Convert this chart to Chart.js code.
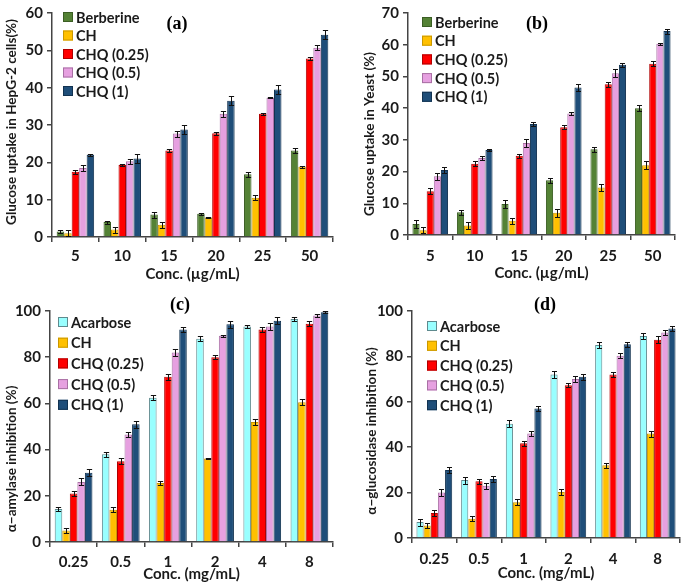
<!DOCTYPE html>
<html>
<head>
<meta charset="utf-8">
<script src="https://cdn.jsdelivr.net/npm/chart.js@4.4.0/dist/chart.umd.min.js"></script>
<style>
  body { margin: 0; background: #fff; }
  #wrap { position: relative; width: 685px; height: 587px; }
  canvas { position: absolute; }
</style>
</head>
<body>
<div id="wrap">
  <canvas id="chartA" width="345" height="290" style="left:0;top:0"></canvas>
  <canvas id="chartB" width="345" height="290" style="left:340px;top:0"></canvas>
  <canvas id="chartC" width="345" height="297" style="left:0;top:290px"></canvas>
  <canvas id="chartD" width="345" height="297" style="left:340px;top:290px"></canvas>
</div>
<script>
/*************************************************************
 *                      DATA
 *************************************************************/
const concUg = ["5", "10", "15", "20", "25", "50"];
const concMg = ["0.25", "0.5", "1", "2", "4", "8"];

// (a) glucose uptake in HepG-2 cells
const hepgBerberine = [1.5, 4.0, 6.0, 6.2, 16.8, 23.2];
const hepgCH        = [1.0, 2.0, 3.3, 5.2, 10.5, 18.8];
const hepgCHQ025    = [17.5, 19.3, 23.2, 27.8, 33.0, 47.8];
const hepgCHQ05     = [18.5, 20.3, 27.7, 33.0, 37.3, 50.7];
const hepgCHQ1      = [22.0, 21.0, 28.8, 36.5, 39.5, 54.2];
const hepgErr = [
  [0.5, 0.4, 0.8, 0.2, 0.6, 0.6],
  [0.8, 0.8, 0.8, 0.2, 0.7, 0.2],
  [0.5, 0.3, 0.4, 0.4, 0.3, 0.4],
  [0.7, 0.7, 0.8, 0.8, 0.2, 0.6],
  [0.2, 1.2, 1.2, 1.2, 1.2, 1.2],
];

// (b) glucose uptake in yeast
const yeastBerberine = [3.5, 7.2, 9.8, 17.3, 27.0, 40.0];
const yeastCH        = [1.5, 3.0, 4.5, 7.0, 15.0, 22.0];
const yeastCHQ025    = [13.8, 22.5, 25.0, 34.0, 47.5, 54.0];
const yeastCHQ05     = [18.5, 24.3, 29.0, 38.3, 51.0, 60.3];
const yeastCHQ1      = [20.5, 26.8, 35.0, 46.5, 53.7, 64.3];
const yeastErr = [
  [1.2, 0.8, 1.2, 0.8, 0.9, 0.9],
  [1.0, 1.0, 1.0, 1.2, 1.0, 1.2],
  [1.0, 0.8, 0.6, 0.6, 0.9, 0.8],
  [1.2, 0.6, 1.2, 0.6, 1.2, 0.3],
  [0.8, 0.4, 0.5, 1.0, 0.6, 0.8],
];

// (c) alpha-amylase inhibition
const amylAcarbose = [14.3, 38.0, 62.5, 88.0, 93.3, 96.5];
const amylCH       = [5.0, 14.0, 25.5, 36.2, 52.0, 60.5];
const amylCHQ025   = [21.0, 35.0, 71.5, 80.0, 92.0, 94.5];
const amylCHQ05    = [26.0, 46.5, 82.0, 89.3, 93.3, 98.0];
const amylCHQ1     = [30.0, 51.0, 92.0, 94.3, 95.8, 99.5];
const amylErr = [
  [1.0, 1.0, 1.2, 1.0, 0.8, 0.7],
  [1.0, 1.0, 0.8, 0.2, 1.2, 1.2],
  [1.0, 1.2, 1.2, 0.8, 1.2, 1.2],
  [1.5, 1.0, 1.5, 0.5, 1.5, 0.8],
  [1.5, 1.5, 1.0, 1.5, 1.5, 0.5],
];

// (d) alpha-glucosidase inhibition
const glucAcarbose = [7.0, 25.5, 50.3, 72.0, 85.0, 89.0];
const glucCH       = [5.5, 8.5, 15.8, 20.3, 32.0, 46.0];
const glucCHQ025   = [11.0, 25.0, 41.7, 67.3, 72.0, 87.3];
const glucCHQ05    = [20.0, 23.0, 46.0, 70.0, 80.3, 90.5];
const glucCHQ1     = [30.0, 26.0, 57.0, 71.0, 85.3, 92.3];
const glucErr = [
  [1.5, 1.5, 1.5, 1.5, 1.5, 1.2],
  [1.2, 1.2, 1.2, 1.2, 1.2, 1.3],
  [1.2, 1.2, 1.0, 1.0, 1.2, 1.5],
  [1.5, 1.2, 1.2, 1.2, 1.2, 1.2],
  [1.2, 1.2, 1.2, 1.2, 1.2, 1.2],
];

/*************************************************************
 *                      STYLE
 *************************************************************/
const seriesStyle = {
  "Berberine":  { fill: "#548235", edge: "#3b5e24" },
  "Acarbose":   { fill: "#99FFFF", edge: "#5f8a8e" },
  "CH":         { fill: "#FFC000", edge: "#c99700" },
  "CHQ (0.25)": { fill: "#FF0000", edge: "#b00000" },
  "CHQ (0.5)":  { fill: "#E6A0E0", edge: "#a870a4" },
  "CHQ (1)":    { fill: "#1F4E79", edge: "#123250" },
};
const TEXT = "#1a1a1a";
const FONT = "Lato";

/*************************************************************
 *                      PLUGIN: error bars, legend, labels
 *************************************************************/
const decorPlugin = {
  id: "decor",
  afterDatasetsDraw(chart, args, opts) {
    const ctx = chart.ctx;
    const yScale = chart.scales.y;
    ctx.save();
    ctx.strokeStyle = "#111";
    ctx.lineWidth = 1;
    chart.data.datasets.forEach((ds, i) => {
      const meta = chart.getDatasetMeta(i);
      meta.data.forEach((bar, j) => {
        const err = opts.errors[i][j];
        const v = ds.data[j];
        const yTop = Math.round(yScale.getPixelForValue(v + err)) + 0.5;
        const yBot = Math.round(yScale.getPixelForValue(v - err)) + 0.5;
        const x = Math.round(bar.x) + 0.5;
        const half = bar.width * 0.35;
        ctx.beginPath();
        ctx.moveTo(x, yTop); ctx.lineTo(x, yBot);
        ctx.moveTo(x - half, yTop); ctx.lineTo(x + half, yTop);
        ctx.moveTo(x - half, yBot); ctx.lineTo(x + half, yBot);
        ctx.stroke();
      });
    });
    ctx.restore();
  },
  afterDraw(chart, args, opts) {
    const ctx = chart.ctx;
    ctx.save();
    // panel label
    ctx.fillStyle = "#000";
    ctx.font = "bold 18px 'Liberation Serif'";
    ctx.textAlign = "center";
    ctx.textBaseline = "middle";
    ctx.fillText(opts.label, opts.labelX, opts.labelY);
    // legend
    ctx.font = "bold 14.5px " + FONT;
    ctx.textAlign = "left";
    chart.data.datasets.forEach((ds, i) => {
      const y = opts.legendY + i * opts.legendGap;
      ctx.fillStyle = ds.backgroundColor;
      ctx.fillRect(opts.legendX, y - 5, 10, 10);
      ctx.strokeStyle = ds.borderColor;
      ctx.lineWidth = 1;
      ctx.strokeRect(opts.legendX + 0.5, y - 4.5, 9, 9);
      ctx.fillStyle = TEXT;
      ctx.fillText(ds.label, opts.legendX + 13, y + 1);
    });
    // y axis title
    ctx.translate(opts.yTitleX, opts.yTitleY);
    ctx.rotate(-Math.PI / 2);
    ctx.textAlign = "center";
    ctx.font = "bold 13.5px " + FONT;
    ctx.fillStyle = TEXT;
    ctx.fillText(opts.yTitle, 0, 0);
    ctx.restore();
  },
};

/*************************************************************
 *                      PANEL SETTINGS
 *************************************************************/
const panels = [
  {
    el: "chartA", labels: concUg, yMax: 60, yStep: 10,
    names: ["Berberine", "CH", "CHQ (0.25)", "CHQ (0.5)", "CHQ (1)"],
    values: [hepgBerberine, hepgCH, hepgCHQ025, hepgCHQ05, hepgCHQ1], errors: hepgErr,
    xTitle: "Conc. (µg/mL)", yTitle: "Glucose uptake in HepG-2 cells(%)",
    area: { top: 10, right: 12, yWidth: 52, xHeight: 53 }, tickPad: 5, titlePad: 6.6,
    decor: { label: "(a)", labelX: 177, labelY: 24, legendX: 63, legendY: 17, legendGap: 18.5,
             yTitleX: 12, yTitleY: 122 },
  },
  {
    el: "chartB", labels: concUg, yMax: 70, yStep: 10,
    names: ["Berberine", "CH", "CHQ (0.25)", "CHQ (0.5)", "CHQ (1)"],
    values: [yeastBerberine, yeastCH, yeastCHQ025, yeastCHQ05, yeastCHQ1], errors: yeastErr,
    xTitle: "Conc. (µg/mL)", yTitle: "Glucose uptake in Yeast (%)",
    area: { top: 8, right: 10, yWidth: 68, xHeight: 55 }, tickPad: 7, titlePad: 7.6,
    decor: { label: "(b)", labelX: 197, labelY: 24, legendX: 82, legendY: 22, legendGap: 18.7,
             yTitleX: 30, yTitleY: 134 },
  },
  {
    el: "chartC", labels: concMg, yMax: 100, yStep: 20,
    names: ["Acarbose", "CH", "CHQ (0.25)", "CHQ (0.5)", "CHQ (1)"],
    values: [amylAcarbose, amylCH, amylCHQ025, amylCHQ05, amylCHQ1], errors: amylErr,
    xTitle: "Conc. (mg/mL)", yTitle: "α\u2212amylase inhibition (%)",
    area: { top: 21, right: 12, yWidth: 50, xHeight: 45 }, tickPad: 6, titlePad: 3.6,
    decor: { label: "(c)", labelX: 180, labelY: 15, legendX: 58, legendY: 32, legendGap: 20.7,
             yTitleX: 12, yTitleY: 169 },
  },
  {
    el: "chartD", labels: concMg, yMax: 100, yStep: 20,
    names: ["Acarbose", "CH", "CHQ (0.25)", "CHQ (0.5)", "CHQ (1)"],
    values: [glucAcarbose, glucCH, glucCHQ025, glucCHQ05, glucCHQ1], errors: glucErr,
    xTitle: "Conc. (mg/mL)", yTitle: "α\u2212glucosidase inhibition (%)",
    area: { top: 21, right: 5, yWidth: 72, xHeight: 49 }, tickPad: 7, titlePad: 4.6,
    decor: { label: "(d)", labelX: 205, labelY: 15, legendX: 87, legendY: 36, legendGap: 19.8,
             yTitleX: 32, yTitleY: 141 },
  },
];

/*************************************************************
 *                      RENDER
 *************************************************************/
function buildChart(p) {
  const datasets = p.names.map((name, i) => ({
    label: name,
    data: p.values[i],
    backgroundColor: seriesStyle[name].fill,
    borderColor: seriesStyle[name].edge,
    borderWidth: 1,
    categoryPercentage: 0.8,
    barPercentage: 1.0,
  }));

  const axisGrid = {
    display: true,
    drawOnChartArea: false,
    drawTicks: true,
    tickLength: 5,
    color: "#444",
    lineWidth: 1.5,
  };

  new Chart(document.getElementById(p.el), {
    type: "bar",
    data: { labels: p.labels, datasets: datasets },
    options: {
      responsive: false,
      animation: false,
      layout: { padding: { top: p.area.top, right: p.area.right, left: 0, bottom: 0 } },
      plugins: {
        legend: { display: false },
        tooltip: { enabled: false },
        decor: Object.assign({ errors: p.errors, yTitle: p.yTitle }, p.decor),
      },
      scales: {
        x: {
          grid: axisGrid,
          border: { color: "#444", width: 1.5 },
          ticks: { color: TEXT, padding: p.tickPad, font: { family: FONT, size: 15, weight: "bold" } },
          title: {
            display: true, text: p.xTitle, color: TEXT,
            font: { family: FONT, size: 15, weight: "bold" },
            padding: { top: 0, bottom: p.titlePad },
          },
          afterFit: (s) => { s.height = p.area.xHeight; },
        },
        y: {
          min: 0, max: p.yMax,
          grid: axisGrid,
          border: { color: "#444", width: 1.5 },
          ticks: { stepSize: p.yStep, color: TEXT, padding: 4, font: { family: FONT, size: 15, weight: "bold" } },
          afterFit: (s) => { s.width = p.area.yWidth; },
        },
      },
    },
    plugins: [decorPlugin],
  });
}

panels.forEach(buildChart);
</script>
</body>
</html>
